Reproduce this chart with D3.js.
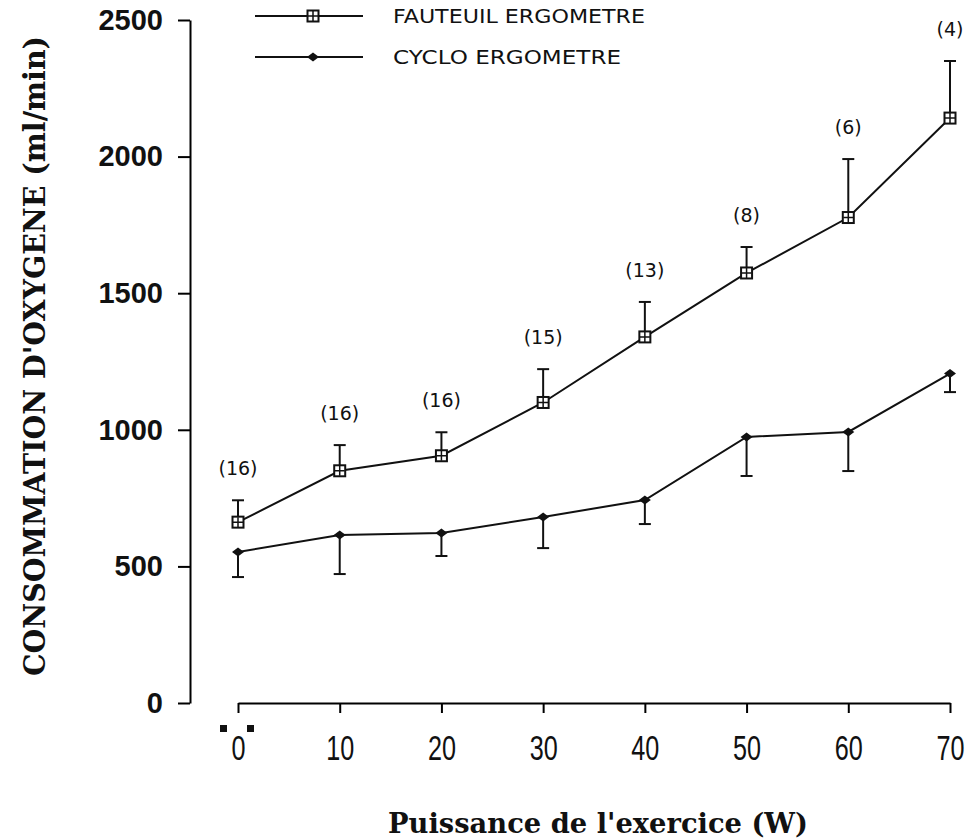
<!DOCTYPE html>
<html>
<head>
<meta charset="utf-8">
<script src="https://cdn.jsdelivr.net/npm/d3@7"></script>
<style>
  body { margin: 0; background: #fff; }
</style>
</head>
<body>
<div id="vis-container"></div>
<script>
// Chart data
var powers = [0, 10, 20, 30, 40, 50, 60, 70];
var fauteuilMean = [662, 850, 905, 1100, 1340, 1574, 1777, 2141];
var fauteuilSD = [80, 94, 86, 122, 128, 95, 214, 209];
var cycloMean = [553, 615, 622, 681, 743, 974, 992, 1206];
var cycloSD = [92, 143, 84, 114, 88, 143, 143, 68];
var nLabels = ["(16)", "(16)", "(16)", "(15)", "(13)", "(8)", "(6)", "(4)"];
var yTicks = [0, 500, 1000, 1500, 2000, 2500];
var legendNames = ["FAUTEUIL ERGOMETRE", "CYCLO ERGOMETRE"];

var width = 971, height = 839;
var svg = d3.select("#vis-container")
	.append("svg")
	.attr("width", width)
	.attr("height", height)
	.style("background", "#fff");

// Scale functions
var xScale = d3.scaleLinear().domain([0, 70]).range([238, 950]);
var yScale = d3.scaleLinear().domain([0, 2500]).range([703, 20]);

var fauteuil = powers.map(function (p, i) { return { x: p, v: fauteuilMean[i], sd: fauteuilSD[i], n: nLabels[i] }; });
var cyclo = powers.map(function (p, i) { return { x: p, v: cycloMean[i], sd: cycloSD[i] }; });

// Y axis
var yAxis = svg.append("g")
	.attr("class", "y-axis")
	.attr("transform", "translate(190,0)")
	.call(d3.axisLeft(yScale).tickValues(yTicks).tickFormat(d3.format("d"))
		.tickSize(12).tickSizeOuter(0).tickPadding(15));
yAxis.select(".domain").attr("stroke-width", 2);
yAxis.selectAll(".tick line").attr("stroke-width", 2);
yAxis.selectAll("text")
	.style("font-family", "'Liberation Sans', Arial, sans-serif")
	.style("font-weight", "bold")
	.style("font-size", "29px")
	.attr("fill", "#111");

// X axis
var xAxis = svg.append("g")
	.attr("class", "x-axis")
	.attr("transform", "translate(0," + yScale(0) + ")")
	.call(d3.axisBottom(xScale).tickValues(powers).tickSize(10).tickSizeOuter(0).tickPadding(22));
xAxis.select(".domain").attr("stroke-width", 2);
xAxis.selectAll(".tick line").attr("stroke-width", 2);
xAxis.selectAll("text")
	.style("font-family", "'Liberation Sans', Arial, sans-serif")
	.style("font-size", "35px")
	.attr("transform", "scale(0.72,1)")
	.attr("fill", "#111");

// two little squares around the "0" label
[-18, 9].forEach(function (dx) {
	svg.append("rect")
		.attr("x", xScale(0) + dx)
		.attr("y", yScale(0) + 22)
		.attr("width", 7)
		.attr("height", 7)
		.attr("fill", "#111");
});

// Axis labels
svg.append("text")
	.attr("transform", "translate(45," + 356 + ") rotate(-90)")
	.attr("text-anchor", "middle")
	.attr("textLength", 640)
	.attr("lengthAdjust", "spacingAndGlyphs")
	.style("font-family", "'DejaVu Serif', serif")
	.style("font-weight", "bold")
	.style("font-size", "30px")
	.attr("fill", "#111")
	.text("CONSOMMATION D'OXYGENE (ml/min)");

svg.append("text")
	.attr("x", 598)
	.attr("y", 833)
	.attr("text-anchor", "middle")
	.attr("textLength", 420)
	.attr("lengthAdjust", "spacingAndGlyphs")
	.style("font-family", "'DejaVu Serif', serif")
	.style("font-weight", "bold")
	.style("font-size", "28px")
	.attr("fill", "#111")
	.text("Puissance de l'exercice (W)");

var line = d3.line()
	.x(function (d) { return xScale(d.x); })
	.y(function (d) { return yScale(d.v); });

// Error bars (fauteuil upward, cyclo downward)
function errorBars(data, dir) {
	var g = svg.append("g").attr("stroke", "#111").attr("stroke-width", 2);
	g.selectAll("line.bar")
		.data(data)
		.enter().append("line")
		.attr("class", "bar")
		.attr("x1", function (d) { return xScale(d.x); })
		.attr("x2", function (d) { return xScale(d.x); })
		.attr("y1", function (d) { return yScale(d.v); })
		.attr("y2", function (d) { return yScale(d.v + dir * d.sd); });
	g.selectAll("line.cap")
		.data(data)
		.enter().append("line")
		.attr("class", "cap")
		.attr("x1", function (d) { return xScale(d.x) - 6; })
		.attr("x2", function (d) { return xScale(d.x) + 6; })
		.attr("y1", function (d) { return yScale(d.v + dir * d.sd); })
		.attr("y2", function (d) { return yScale(d.v + dir * d.sd); });
}
errorBars(fauteuil, 1);
errorBars(cyclo, -1);

// Lines
svg.append("path")
	.datum(fauteuil)
	.attr("fill", "none")
	.attr("stroke", "#111")
	.attr("stroke-width", 2)
	.attr("d", line);
svg.append("path")
	.datum(cyclo)
	.attr("fill", "none")
	.attr("stroke", "#111")
	.attr("stroke-width", 2)
	.attr("d", line);

// Markers
function squareMarker(g) {
	g.append("rect")
		.attr("x", -5.5).attr("y", -5.5).attr("width", 11).attr("height", 11)
		.attr("fill", "#fff").attr("stroke", "#111").attr("stroke-width", 2);
	g.append("path")
		.attr("d", "M0,-5V5M-5,0H5")
		.attr("stroke", "#111").attr("stroke-width", 1.5);
}
function diamondMarker(g) {
	g.append("path")
		.attr("d", "M-6,0L0,-4.5L6,0L0,4.5Z")
		.attr("fill", "#111");
}

svg.selectAll("g.sq")
	.data(fauteuil)
	.enter().append("g")
	.attr("class", "sq")
	.attr("transform", function (d) { return "translate(" + xScale(d.x) + "," + yScale(d.v) + ")"; })
	.each(function () { squareMarker(d3.select(this)); });

svg.selectAll("g.dm")
	.data(cyclo)
	.enter().append("g")
	.attr("class", "dm")
	.attr("transform", function (d) { return "translate(" + xScale(d.x) + "," + yScale(d.v) + ")"; })
	.each(function () { diamondMarker(d3.select(this)); });

// Number of subjects above each fauteuil point
svg.selectAll("text.n")
	.data(fauteuil)
	.enter().append("text")
	.attr("class", "n")
	.attr("x", function (d) { return xScale(d.x); })
	.attr("y", function (d) { return yScale(d.v + d.sd) - 25; })
	.attr("text-anchor", "middle")
	.style("font-family", "'DejaVu Sans', sans-serif")
	.style("font-size", "19px")
	.attr("fill", "#111")
	.text(function (d) { return d.n; });

// Legend
var legend = svg.append("g").attr("class", "legend");
var legendY = [16, 57];
legendNames.forEach(function (name, i) {
	var g = legend.append("g").attr("transform", "translate(0," + legendY[i] + ")");
	g.append("line")
		.attr("x1", 255).attr("x2", 363)
		.attr("stroke", "#111").attr("stroke-width", 2);
	var m = g.append("g").attr("transform", "translate(313,0)");
	if (i === 0) squareMarker(m); else diamondMarker(m);
	g.append("text")
		.attr("x", 393)
		.attr("y", 7)
		.attr("textLength", i === 0 ? 252 : 228)
		.attr("lengthAdjust", "spacingAndGlyphs")
		.style("font-family", "'DejaVu Sans', sans-serif")
		.style("font-size", "20px")
		.attr("fill", "#111")
		.text(name);
});
</script>
</body>
</html>
